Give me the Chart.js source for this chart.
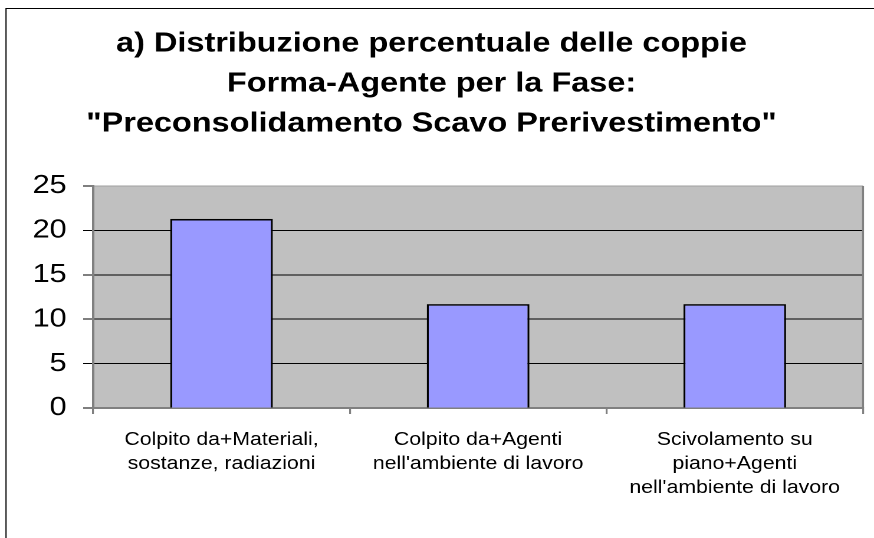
<!DOCTYPE html>
<html>
<head>
<meta charset="utf-8">
<script src="https://cdn.jsdelivr.net/npm/chart.js@4/dist/chart.umd.min.js"></script>
<style>
  html, body { margin: 0; padding: 0; background: #fff; overflow: hidden; }
  /* the reference is drawn with a horizontal stretch, so the chart is laid out narrower and scaled */
  #wrap { width: 741px; height: 538px; transform: scaleX(1.1795); transform-origin: 0 0; }
</style>
</head>
<body>
<div id="wrap"><canvas id="chart"></canvas></div>
<script>
const titleLines = [
  'a) Distribuzione percentuale delle coppie',
  'Forma-Agente per la Fase:',
  '"Preconsolidamento Scavo Prerivestimento"'
];
const categories = [
  ['Colpito da+Materiali,', 'sostanze, radiazioni'],
  ['Colpito da+Agenti', "nell'ambiente di lavoro"],
  ['Scivolamento su', 'piano+Agenti', "nell'ambiente di lavoro"]
];
const values = [21.3, 11.7, 11.7];
const yMin = 0;
const yMax = 25;
const yStep = 5;

const font = "'Liberation Sans', Arial, sans-serif";

// Plot background, outer frame and right edge of the plot
const framePlugin = {
  id: 'frame',
  beforeDraw(chart) {
    const { ctx, chartArea: a } = chart;
    ctx.save();
    ctx.fillStyle = '#fff';
    ctx.fillRect(0, 0, chart.width, chart.height);
    ctx.strokeStyle = '#000';
    ctx.lineWidth = 1;
    ctx.strokeRect(5.1, 8.5, chart.width + 20, chart.height + 20);
    ctx.fillStyle = '#c0c0c0';
    ctx.fillRect(a.left, a.top, a.right - a.left, a.bottom - a.top);
    ctx.restore();
  },
  beforeDatasetsDraw(chart) {
    const { ctx, chartArea: a } = chart;
    ctx.save();
    ctx.strokeStyle = '#808080';
    ctx.lineWidth = 1.7;
    ctx.beginPath();
    ctx.moveTo(a.right, a.top);
    ctx.lineTo(a.right, a.bottom);
    ctx.stroke();
    ctx.restore();
  }
};

new Chart(document.getElementById('chart'), {
  type: 'bar',
  data: {
    labels: categories,
    datasets: [{
      data: values,
      backgroundColor: '#9999ff',
      borderColor: '#000',
      borderWidth: 1.7,
      barPercentage: 0.4,
      categoryPercentage: 1.0
    }]
  },
  options: {
    responsive: true,
    maintainAspectRatio: false,
    animation: false,
    devicePixelRatio: 2,
    layout: { padding: { left: 0, right: 9.3, top: 0, bottom: 0 } },
    plugins: {
      legend: { display: false },
      tooltip: { enabled: false },
      title: {
        display: true,
        text: titleLines,
        color: '#000',
        font: { family: font, size: 27.5, weight: 'bold', lineHeight: 40 / 27.5 },
        padding: { top: 24, bottom: 42 }
      }
    },
    scales: {
      x: {
        grid: {
          offset: true,
          drawOnChartArea: false,
          color: '#808080',
          lineWidth: 1.6,
          tickLength: 6
        },
        border: { color: '#808080', width: 2 },
        ticks: {
          color: '#000',
          padding: 14,
          maxRotation: 0,
          autoSkip: false,
          font: { family: font, size: 18, lineHeight: 24 / 18 }
        },
        afterFit(scale) { scale.height = 130; }
      },
      y: {
        min: yMin,
        max: yMax,
        grid: {
          color: (c) => c.tick.value === yMin ? 'rgba(0,0,0,0)' : (c.tick.value === yMax ? '#a0a0a0' : '#000'),
          tickColor: '#000',
          lineWidth: 1,
          tickLength: 8.5
        },
        border: { color: '#808080', width: 2 },
        ticks: {
          stepSize: yStep,
          color: '#000',
          padding: 14,
          font: { family: font, size: 26 }
        },
        afterFit(scale) { scale.width = 79; }
      }
    }
  },
  plugins: [framePlugin]
});
</script>
</body>
</html>
